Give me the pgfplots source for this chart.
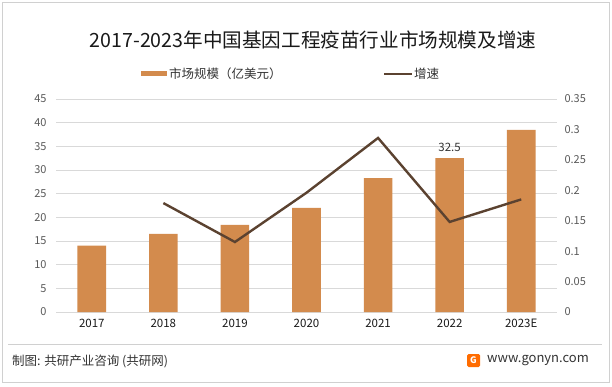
\documentclass[border=0pt]{standalone}
\usepackage{fontspec}
\setmainfont{Noto Sans CJK SC}
\usepackage{pgfplots}
\pgfplotsset{compat=1.18}
\definecolor{barc}{HTML}{D38B4D}
\definecolor{linec}{HTML}{5B4230}
\definecolor{gridc}{HTML}{D9D9D9}
\definecolor{tickc}{HTML}{595959}
\definecolor{framec}{HTML}{D0D0D0}
\begin{document}
\begin{tikzpicture}
\useasboundingbox (0pt,0pt) rectangle (612pt,386pt);
\draw[framec,line width=0.8pt] (2pt,4pt) rectangle (609.5pt,384pt);
% title
\node[font=\fontsize{19.6}{21}\selectfont, text=black!90] at (313pt,346pt) {2017-2023年中国基因工程疫苗行业市场规模及增速};
% legend
\fill[barc] (141pt,309.5pt) rectangle (167pt,314.5pt);
\node[anchor=west, inner sep=0pt, font=\fontsize{12.5}{14}\selectfont, text=black!80] at (169pt,312pt) {市场规模（亿美元）};
\draw[linec, line width=2.5pt] (384pt,312pt) -- (412pt,312pt);
\node[anchor=west, inner sep=0pt, font=\fontsize{12.5}{14}\selectfont, text=black!80] at (414pt,312pt) {增速};
% footer
\draw[framec, line width=0.8pt] (8pt,42pt) -- (602pt,42pt);
\node[anchor=west, inner sep=0pt, font=\fontsize{12.5}{14}\selectfont, text=black!80] at (12pt,25pt) {制图: 共研产业咨询 (共研网)};
\fill[orange!85!red, rounded corners=1.5pt] (467pt,19pt) rectangle (480pt,32pt);
\node[font=\bfseries\fontsize{9}{10}\selectfont, text=white, inner sep=0pt] at (473.5pt,25.5pt) {G};
\node[anchor=west, inner sep=0pt, font=\fontsize{13}{15}\selectfont, text=black!80] at (487pt,25.5pt) {www.gonyn.com};
\begin{axis}[
  at={(56pt,74pt)}, anchor=south west, scale only axis,
  width=501pt, height=213pt,
  xmin=-0.5, xmax=6.5, ymin=0, ymax=45,
  ytick={0,5,...,45},
  xtick={0,1,2,3,4,5,6},
  xticklabels={2017,2018,2019,2020,2021,2022,2023E},
  axis line style={draw=none},
  tick style={draw=none},
  ymajorgrids, grid style={gridc, line width=0.8pt},
  /pgf/number format/assume math mode=true,
  yticklabel style={font=\fontsize{11}{12}\selectfont, text=tickc, xshift=-6pt},
  xticklabel style={font=\fontsize{11.5}{12}\selectfont, text=black!90, yshift=-4pt},
  clip=false,
]
\addplot[ybar, bar width=28.6pt, fill=barc, draw=none] coordinates {
(0,14.0) (1,16.5) (2,18.4) (3,22.0) (4,28.3) (5,32.5) (6,38.5)};
\node[anchor=south, font=\fontsize{11.5}{12}\selectfont, text=black!80, yshift=3pt] at (axis cs:5,32.5) {32.5};
\end{axis}
\begin{axis}[
  at={(56pt,74pt)}, anchor=south west, scale only axis,
  width=501pt, height=213pt,
  xmin=-0.5, xmax=6.5, ymin=0, ymax=0.35,
  axis y line*=right, axis x line=none,
  axis line style={draw=none},
  tick style={draw=none},
  ytick={0,0.05,0.1,0.15,0.2,0.25,0.3,0.35},
  yticklabels={0,0.05,0.1,0.15,0.2,0.25,0.3,0.35},
  yticklabel style={font=\fontsize{11}{12}\selectfont, text=tickc, xshift=4pt, anchor=west},
  clip=false,
]
\addplot[linec, line width=2.4pt, mark=none] coordinates {
(1,0.179) (2,0.115) (3,0.196) (4,0.286) (5,0.148) (6,0.185)};
\end{axis}
\end{tikzpicture}
\end{document}
